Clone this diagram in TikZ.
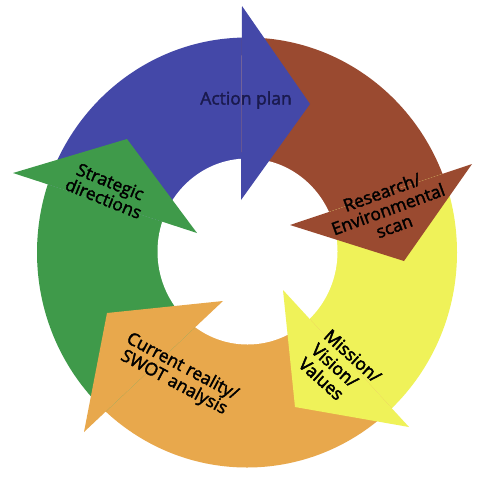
\documentclass[tikz,border=0pt]{standalone}
\usepackage{fontspec}
\setmainfont{Open Sans}
\newfontfamily\lblfont{Open Sans}[FakeBold=2]
\newfontfamily\lblfontb{Open Sans}[FakeBold=2.8]
\usetikzlibrary{calc}
\definecolor{cblue}{HTML}{4448A8}
\definecolor{cbrown}{HTML}{9A4A30}
\definecolor{cyellow}{HTML}{EFF259}
\definecolor{corange}{HTML}{E8A84C}
\definecolor{cgreen}{HTML}{3F9A4A}
\definecolor{navy}{HTML}{1A1A4E}
\begin{document}
\begin{tikzpicture}[x=1pt,y=-1pt,
  lbl/.style={font=\lblfont\fontsize{17.5}{18}\selectfont, align=center, inner sep=0pt, text=black}]
\fill[white] (0,0) rectangle (481,480);
\useasboundingbox (0,0) rectangle (481,480);
% head points (inner base, outer base, tip)
\coordinate (Bi) at (241,200); \coordinate (Bo) at (242,6);   \coordinate (Bt) at (310,104);
\coordinate (Ri) at (290,225); \coordinate (Ro) at (472,164); \coordinate (Rt) at (404,261);
\coordinate (Yi) at (283,290); \coordinate (Yo) at (409,427); \coordinate (Yt) at (295,407);
\coordinate (Oi) at (223,301); \coordinate (Oo) at (84,432);  \coordinate (Ot) at (107,313);
\coordinate (Gi) at (197,233); \coordinate (Go) at (13,173);  \coordinate (Gt) at (127,139);
% bands
\begin{scope}
  \clip (247,252.5) ellipse [x radius=210, y radius=215];
  \fill[cblue]   (Gi) -- ($(Gi)!3!(Go)$) -- ($(Bi)!3!(Bo)$) -- (Bi) -- cycle;
  \fill[cbrown]  (Bi) -- ($(Bi)!3!(Bo)$) -- ($(Ri)!3!(Ro)$) -- (Ri) -- cycle;
  \fill[cyellow] (Ri) -- ($(Ri)!3!(Ro)$) -- ($(Yi)!3!(Yo)$) -- (Yi) -- cycle;
  \fill[corange] (Yi) -- ($(Yi)!3!(Yo)$) -- ($(Oi)!3!(Oo)$) -- (Oi) -- cycle;
  \fill[cgreen]  (Oi) -- ($(Oi)!3!(Oo)$) -- ($(Gi)!3!(Go)$) -- (Gi) -- cycle;
\end{scope}
\fill[white] (247.5,251.5) ellipse [x radius=90, y radius=93];
% heads
\fill[cblue]   (Bi) -- (Bo) -- (Bt) -- cycle;
\fill[cbrown]  (Ri) -- (Ro) -- (Rt) -- cycle;
\fill[cyellow] (Yi) -- (Yo) -- (Yt) -- cycle;
\fill[corange] (Oi) -- (Oo) -- (Ot) -- cycle;
\fill[cgreen]  (Gi) -- (Go) -- (Gt) -- cycle;
% labels
\node[lbl, text=navy] (action) at (246,100) {Action plan};
\node[lbl, rotate=20] (research) at (388,209) {Research/\\Environmental\\scan};
\node[lbl, rotate=-42, align=left, font=\lblfontb\fontsize{17.5}{19}\selectfont] (mission) at (340,370) {Mission/\\Vision/\\Values};
\node[lbl, rotate=-28] (current) at (178,375) {Current reality/\\SWOT analysis};
\node[lbl, rotate=-22] (strategic) at (107,190) {Strategic\\directions};
\end{tikzpicture}
\end{document}
